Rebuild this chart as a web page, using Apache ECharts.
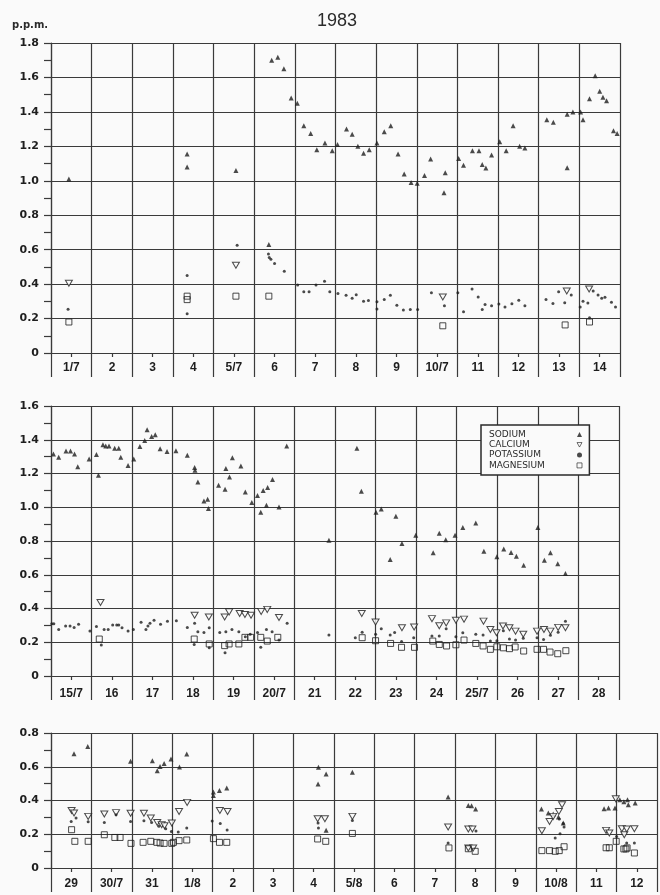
<!DOCTYPE html>
<html><head><meta charset="utf-8">
<script src="https://cdn.jsdelivr.net/npm/echarts@6/dist/echarts.min.js"></script>
<style>html,body{margin:0;padding:0;background:#fafafa}#c{width:660px;height:895px}</style>
</head><body><div id="c"></div>
<script>
// ---- tick labels ----
const p1Days = ['1/7','2','3','4','5/7','6','7','8','9','10/7','11','12','13','14'];
const p2Days = ['15/7','16','17','18','19','20/7','21','22','23','24','25/7','26','27','28'];
const p3Days = ['29','30/7','31','1/8','2','3','4','5/8','6','7','8','9','10/8','11','12'];
const seriesNames = ['SODIUM','CALCIUM','POTASSIUM','MAGNESIUM'];

// ---- panel 1 (1-14 July) [day offset, ppm] ----
const p1Sodium = [[0.44,1.01],[3.35,1.155],[3.35,1.08],[4.55,1.06],[5.43,1.70],[5.58,1.717],[5.73,1.65],[5.91,1.48],[6.06,1.45],[6.22,1.32],[6.39,1.275],[6.54,1.18],[6.74,1.22],[6.92,1.175],[7.05,1.21],[7.27,1.30],[7.41,1.27],[7.55,1.20],[7.69,1.16],[7.83,1.18],[8.02,1.22],[8.2,1.285],[8.36,1.32],[8.54,1.155],[8.69,1.04],[8.86,0.99],[9.01,0.985],[9.19,1.03],[9.34,1.126],[9.67,0.93],[9.7,1.047],[10.03,1.13],[10.15,1.09],[10.37,1.175],[10.53,1.175],[10.61,1.095],[10.7,1.074],[10.84,1.15],[11.04,1.227],[11.2,1.175],[11.37,1.32],[11.53,1.2],[11.66,1.19],[12.2,1.355],[12.36,1.34],[12.7,1.076],[12.7,1.386],[12.84,1.40],[13.03,1.40],[13.09,1.355],[13.25,1.477],[13.39,1.61],[13.5,1.52],[13.58,1.485],[13.67,1.465],[13.84,1.29],[13.93,1.275],[5.36,0.63]];
const p1Calcium = [[0.44,0.405],[4.55,0.51],[9.64,0.325],[12.69,0.36],[13.24,0.372]];
const p1Potassium = [[0.42,0.254],[3.35,0.45],[3.35,0.228],[4.58,0.625],[5.35,0.575],[5.37,0.555],[5.41,0.545],[5.5,0.52],[5.74,0.475],[6.07,0.395],[6.22,0.355],[6.35,0.355],[6.52,0.395],[6.73,0.417],[6.86,0.355],[7.06,0.345],[7.26,0.335],[7.41,0.318],[7.51,0.338],[7.69,0.30],[7.81,0.305],[8.02,0.297],[8.02,0.256],[8.2,0.31],[8.35,0.335],[8.51,0.277],[8.67,0.25],[8.84,0.253],[9.02,0.253],[9.36,0.35],[9.68,0.275],[10.01,0.35],[10.15,0.24],[10.36,0.372],[10.51,0.325],[10.61,0.253],[10.68,0.282],[10.84,0.275],[11.02,0.284],[11.17,0.267],[11.34,0.286],[11.51,0.306],[11.66,0.275],[12.18,0.31],[12.35,0.288],[12.49,0.355],[12.64,0.292],[12.8,0.337],[13.02,0.267],[13.09,0.30],[13.21,0.29],[13.34,0.36],[13.46,0.337],[13.55,0.318],[13.63,0.323],[13.79,0.295],[13.89,0.267],[13.25,0.205]];
const p1Magnesium = [[0.44,0.18],[3.35,0.33],[3.35,0.31],[4.55,0.33],[5.36,0.33],[9.64,0.158],[12.65,0.163],[13.25,0.18]];

// ---- panel 2 (15-28 July) ----
const p2Sodium = [[0.06,1.316],[0.19,1.296],[0.37,1.333],[0.48,1.333],[0.58,1.316],[0.66,1.24],[0.94,1.286],[1.12,1.313],[1.17,1.19],[1.28,1.37],[1.35,1.363],[1.43,1.363],[1.57,1.35],[1.67,1.35],[1.72,1.296],[1.9,1.247],[2.04,1.286],[2.19,1.36],[2.31,1.395],[2.37,1.46],[2.48,1.42],[2.57,1.43],[2.69,1.347],[2.86,1.33],[3.08,1.335],[3.36,1.308],[3.54,1.235],[3.55,1.22],[3.62,1.15],[3.77,1.037],[3.86,1.047],[3.88,0.992],[4.13,1.13],[4.29,1.107],[4.31,1.23],[4.4,1.18],[4.47,1.294],[4.68,1.244],[4.79,1.09],[4.95,1.028],[5.09,1.07],[5.17,0.97],[5.23,1.10],[5.31,1.012],[5.34,1.117],[5.46,1.164],[5.62,1.002],[5.81,1.363],[6.85,0.805],[7.54,1.35],[7.65,1.095],[8.01,0.97],[8.14,0.99],[8.36,0.69],[8.5,0.947],[8.65,0.785],[8.99,0.834],[9.42,0.73],[9.57,0.846],[9.73,0.807],[9.96,0.834],[10.15,0.88],[10.47,0.907],[10.67,0.74],[10.99,0.706],[11.16,0.753],[11.34,0.732],[11.47,0.71],[11.65,0.657],[12.0,0.88],[12.16,0.686],[12.31,0.73],[12.49,0.665],[12.68,0.608]];
const p2Calcium = [[1.22,0.436],[3.54,0.36],[3.89,0.35],[4.28,0.35],[4.39,0.38],[4.65,0.37],[4.78,0.364],[4.93,0.36],[5.18,0.383],[5.33,0.395],[5.62,0.347],[7.66,0.37],[8.0,0.32],[8.65,0.286],[8.95,0.29],[9.39,0.34],[9.57,0.298],[9.74,0.315],[9.98,0.33],[10.18,0.337],[10.66,0.325],[10.83,0.276],[10.98,0.256],[11.14,0.296],[11.3,0.286],[11.45,0.266],[11.64,0.247],[11.98,0.266],[12.15,0.276],[12.31,0.266],[12.5,0.288],[12.68,0.286]];
const p2Potassium = [[0.02,0.31],[0.07,0.31],[0.19,0.276],[0.36,0.296],[0.47,0.296],[0.57,0.288],[0.68,0.306],[0.96,0.266],[1.12,0.294],[1.24,0.183],[1.31,0.276],[1.41,0.276],[1.52,0.302],[1.62,0.302],[1.67,0.302],[1.75,0.286],[1.9,0.266],[2.03,0.276],[2.22,0.318],[2.34,0.276],[2.39,0.296],[2.44,0.312],[2.54,0.331],[2.7,0.306],[2.87,0.325],[3.09,0.327],[3.36,0.288],[3.54,0.312],[3.53,0.187],[3.62,0.262],[3.77,0.258],[3.9,0.286],[3.9,0.167],[4.16,0.258],[4.31,0.262],[4.29,0.138],[4.46,0.276],[4.63,0.262],[4.79,0.232],[4.91,0.248],[5.09,0.258],[5.17,0.17],[5.31,0.276],[5.45,0.262],[5.62,0.213],[5.82,0.312],[6.85,0.243],[7.5,0.227],[7.67,0.26],[8.0,0.248],[8.14,0.28],[8.36,0.243],[8.47,0.258],[8.64,0.205],[8.94,0.227],[9.39,0.237],[9.57,0.237],[9.74,0.28],[9.98,0.232],[10.15,0.256],[10.47,0.247],[10.65,0.243],[10.83,0.207],[10.99,0.209],[11.15,0.268],[11.3,0.219],[11.45,0.213],[11.64,0.223],[11.98,0.227],[12.14,0.217],[12.31,0.241],[12.5,0.26],[12.68,0.325]];
const p2Magnesium = [[1.19,0.219],[3.53,0.219],[3.9,0.19],[4.28,0.18],[4.39,0.19],[4.63,0.19],[4.78,0.229],[4.92,0.229],[5.17,0.229],[5.33,0.207],[5.59,0.229],[7.67,0.227],[8.0,0.209],[8.37,0.193],[8.64,0.17],[8.96,0.17],[9.41,0.207],[9.57,0.187],[9.75,0.178],[9.98,0.185],[10.18,0.213],[10.47,0.193],[10.65,0.178],[10.83,0.158],[10.99,0.173],[11.15,0.167],[11.3,0.162],[11.44,0.172],[11.65,0.148],[11.98,0.158],[12.14,0.158],[12.3,0.142],[12.49,0.132],[12.69,0.15]];

// ---- panel 3 (29 July - 12 August) ----
const p3Sodium = [[0.57,0.677],[0.91,0.72],[1.97,0.632],[2.51,0.636],[2.63,0.577],[2.70,0.602],[2.80,0.62],[2.97,0.646],[3.18,0.598],[3.36,0.675],[4.02,0.45],[4.02,0.43],[4.17,0.46],[4.35,0.474],[6.62,0.597],[6.81,0.557],[6.61,0.498],[6.81,0.223],[7.46,0.567],[9.83,0.421],[10.33,0.371],[10.41,0.369],[10.51,0.35],[12.14,0.35],[12.31,0.326],[12.43,0.32],[12.56,0.302],[12.68,0.267],[13.69,0.351],[13.80,0.355],[13.96,0.355],[14.08,0.405],[14.18,0.393],[14.27,0.405],[14.29,0.375],[14.46,0.385]];
const p3Calcium = [[0.51,0.341],[0.57,0.326],[0.92,0.306],[1.32,0.32],[1.61,0.328],[1.97,0.324],[2.30,0.324],[2.47,0.296],[2.63,0.27],[2.74,0.257],[2.81,0.25],[2.99,0.267],[3.17,0.335],[3.37,0.389],[4.18,0.341],[4.37,0.335],[6.60,0.292],[6.78,0.292],[7.46,0.306],[9.83,0.243],[10.33,0.231],[10.43,0.231],[10.33,0.119],[10.45,0.119],[12.15,0.221],[12.34,0.276],[12.43,0.306],[12.57,0.335],[12.65,0.375],[13.74,0.223],[13.82,0.207],[13.98,0.41],[14.13,0.233],[14.19,0.197],[14.25,0.231],[14.44,0.233]];
const p3Potassium = [[0.50,0.276],[0.62,0.296],[0.92,0.274],[1.32,0.27],[1.61,0.316],[1.97,0.276],[2.30,0.28],[2.49,0.27],[2.67,0.247],[2.84,0.233],[2.98,0.217],[3.15,0.213],[3.36,0.237],[3.99,0.279],[4.19,0.263],[4.36,0.225],[6.61,0.267],[6.62,0.237],[7.46,0.282],[9.83,0.148],[10.52,0.219],[12.48,0.178],[12.60,0.203],[12.68,0.263],[12.70,0.243],[12.58,0.29],[14.0,0.187],[14.25,0.148],[14.44,0.148]];
const p3Magnesium = [[0.51,0.227],[0.59,0.158],[0.92,0.158],[1.32,0.197],[1.58,0.181],[1.71,0.181],[1.98,0.146],[2.28,0.152],[2.47,0.158],[2.62,0.152],[2.70,0.148],[2.80,0.146],[2.99,0.146],[3.03,0.152],[3.17,0.162],[3.36,0.166],[4.02,0.174],[4.17,0.152],[4.35,0.152],[6.60,0.172],[6.80,0.158],[7.46,0.205],[9.85,0.119],[10.33,0.114],[10.50,0.099],[12.15,0.103],[12.34,0.103],[12.48,0.099],[12.58,0.103],[12.70,0.126],[13.74,0.12],[13.82,0.12],[13.99,0.158],[14.18,0.113],[14.23,0.113],[14.26,0.119],[14.44,0.089]];

const panels = [
  {days:p1Days, ymax:1.8, data:[p1Sodium,p1Calcium,p1Potassium,p1Magnesium], grid:{left:51,right:40,top:43,height:310}, lblMargin:9},
  {days:p2Days, ymax:1.6, data:[p2Sodium,p2Calcium,p2Potassium,p2Magnesium], grid:{left:51,right:41,top:406,height:270}, lblMargin:12},
  {days:p3Days, ymax:0.8, data:[p3Sodium,p3Calcium,p3Potassium,p3Magnesium], grid:{left:51,right:3,top:733,height:135}, lblMargin:10}
];

const LINE = '#3a3a3a';
const INK = '#1e1e1e';
const BG = '#fafafa';
const symbolStyles = [
  {symbol:'triangle', symbolSize:[5,5], itemStyle:{color:INK}},
  {symbol:'path://M0,0L10,0L5,9Z', symbolSize:[7,6], itemStyle:{color:BG, borderColor:INK, borderWidth:1}},
  {symbol:'circle', symbolSize:3, itemStyle:{color:INK}},
  {symbol:'rect', symbolSize:6, itemStyle:{color:'rgba(0,0,0,0)', borderColor:INK, borderWidth:1}}
];
const legendIcons = [
  {icon:'triangle', itemStyle:{color:INK, borderWidth:0}},
  {icon:'path://M0,0L10,0L5,9Z', itemStyle:{color:BG, borderColor:INK, borderWidth:0.8}},
  {icon:'circle', itemStyle:{color:INK, borderWidth:0}},
  {icon:'rect', itemStyle:{color:BG, borderColor:INK, borderWidth:0.8}}
];

const grid=[], xAxis=[], yAxis=[], series=[];
panels.forEach((p,i)=>{
  grid.push(p.grid);
  xAxis.push({
    type:'value', gridIndex:i, min:0, max:p.days.length, interval:1,
    axisLine:{show:true, lineStyle:{color:LINE, width:1.2}},
    axisTick:{show:true, length:24, inside:false, lineStyle:{color:LINE, width:1.2}},
    axisLabel:{show:false},
    splitLine:{show:true, lineStyle:{color:LINE, width:1.2}}
  });
  xAxis.push({
    type:'category', gridIndex:i, data:p.days, boundaryGap:true, position:'bottom',
    axisLine:{show:false},
    axisTick:{show:true, alignWithLabel:true, length:4, lineStyle:{color:LINE, width:1.2}},
    axisLabel:{margin:p.lblMargin, fontFamily:'Liberation Sans', fontWeight:'bold', fontSize:12, color:INK},
    splitLine:{show:false}
  });
  yAxis.push({
    type:'value', gridIndex:i, min:0, max:p.ymax, interval:0.2,
    axisLine:{show:true, lineStyle:{color:LINE, width:1.2}},
    axisTick:{show:true, length:7, lineStyle:{color:LINE, width:1.2}},
    minorTick:{show:true, splitNumber:2, length:7, lineStyle:{color:LINE, width:1.2}},
    axisLabel:{margin:12, fontFamily:'DejaVu Sans', fontWeight:'bold', fontSize:11, color:INK,
      formatter:v=> v===0 ? '0' : v.toFixed(1)},
    splitLine:{show:true, lineStyle:{color:LINE, width:1.2}}
  });
  p.data.forEach((d,k)=>{
    series.push(Object.assign({
      type:'scatter', name:seriesNames[k], xAxisIndex:i*2, yAxisIndex:i, data:d,
      silent:true, animation:false, z:3+k
    }, symbolStyles[k]));
  });
});

const chart = echarts.init(document.getElementById('c'), null, {renderer:'canvas'});
chart.setOption({
  backgroundColor:BG,
  animation:false,
  title:[
    {text:'1983', left:312, top:7, textStyle:{fontFamily:'Liberation Sans', fontWeight:'normal', fontSize:18, color:'#2a2a2a'}},
    {text:'p.p.m.', left:7, top:15, textStyle:{fontFamily:'DejaVu Sans', fontWeight:'bold', fontSize:10, color:'#2a2a2a'}}
  ],
  legend:{
    orient:'vertical', left:481, top:425, align:'right',
    padding:[5,7,5,8], itemGap:1.3, itemWidth:5, itemHeight:5,
    backgroundColor:BG, borderColor:'#2a2a2a', borderWidth:1.5,
    data:seriesNames.map((n,k)=>Object.assign({name:n}, legendIcons[k])),
    selectedMode:false,
    formatter:n=>'{t|'+n+'}',
    textStyle:{rich:{t:{width:83, align:'left', fontSize:9, lineHeight:12, fontFamily:'DejaVu Sans', color:'#2a2a2a'}}}
  },
  grid, xAxis, yAxis, series
});
</script></body></html>
